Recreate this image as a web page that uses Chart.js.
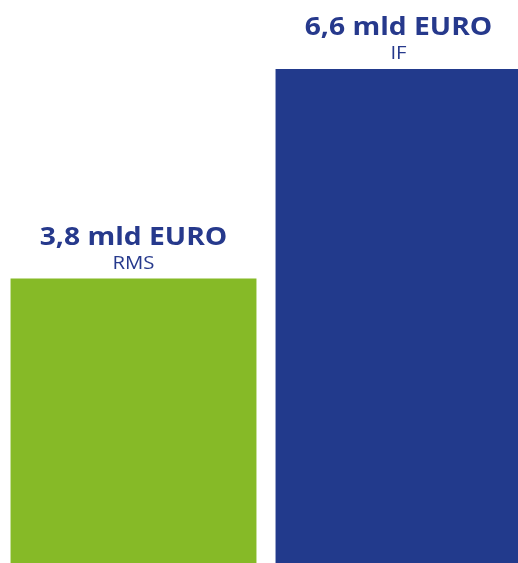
<!DOCTYPE html>
<html>
<head>
<meta charset="utf-8">
<script src="https://cdn.jsdelivr.net/npm/chart.js@4"></script>
<style>
  html, body { margin: 0; padding: 0; background: #fff; overflow: hidden; }
  .wrap { position: absolute; left: 1px; top: 0; width: 530px; height: 563px; }
</style>
</head>
<body>
<div class="wrap"><canvas id="diagram"></canvas></div>
<script>
// data
const kategorier = ['RMS', 'IF'];
const varden = [3.8, 6.6];
const vardeTexter = ['3,8 mld EURO', '6,6 mld EURO'];
const farger = ['#86BA27', '#223A8C'];

// draws the value + category text above each bar
const etiketter = {
  id: 'etiketter',
  afterDatasetsDraw(chart) {
    const ctx = chart.ctx;
    const meta = chart.getDatasetMeta(0);
    ctx.save();
    ctx.textAlign = 'center';
    ctx.textBaseline = 'alphabetic';
    ctx.fillStyle = '#26398C';
    meta.data.forEach((bar, i) => {
      const y = bar.y;
      ctx.save();
      ctx.translate(bar.x, 0);
      ctx.scale(1.13, 1); // wider letters, closer to the original font
      ctx.font = 'bold 25px "Open Sans"';
      ctx.fillText(vardeTexter[i], 0, y - 34);
      ctx.font = '18px "Open Sans"';
      ctx.fillText(kategorier[i], 0, y - 10);
      ctx.restore();
    });
    ctx.restore();
  }
};

new Chart(document.getElementById('diagram').getContext('2d'), {
  type: 'bar',
  data: {
    labels: kategorier,
    datasets: [{
      data: varden,
      backgroundColor: farger,
      borderWidth: 0,
      barPercentage: 0.928,
      categoryPercentage: 1
    }]
  },
  options: {
    responsive: true,
    maintainAspectRatio: false,
    animation: false,
    layout: { padding: 0 },
    plugins: { legend: { display: false }, tooltip: { enabled: false } },
    scales: {
      x: { display: false },
      y: { display: false, min: 0, max: 7.52 }
    }
  },
  plugins: [etiketter]
});
</script>
</body>
</html>
